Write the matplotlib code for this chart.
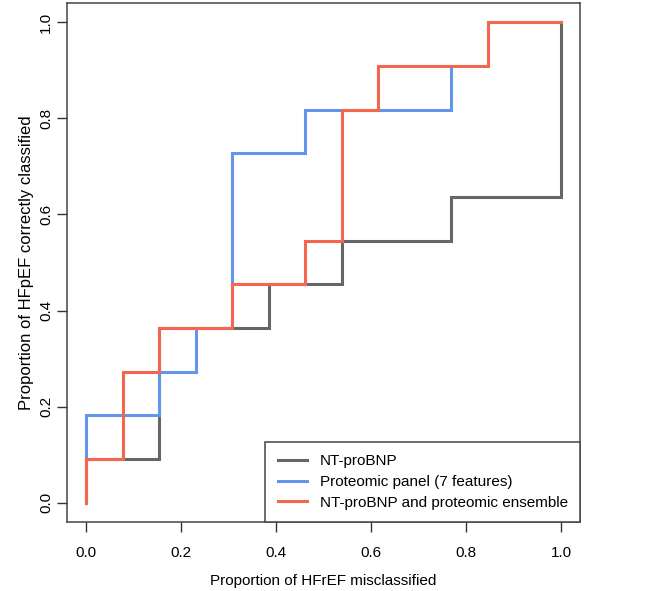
import matplotlib
matplotlib.use("Agg")
import matplotlib.pyplot as plt

plt.rcParams['font.family'] = ['Liberation Sans', 'DejaVu Sans']

# Data: ROC step coordinates (false positive fraction, true positive fraction)
nt_fpr = [0, 0, 2/13, 2/13, 5/13, 5/13, 7/13, 7/13, 10/13, 10/13, 1, 1]
nt_tpr = [0, 1/11, 1/11, 4/11, 4/11, 5/11, 5/11, 6/11, 6/11, 7/11, 7/11, 1]

prot_fpr = [0, 0, 2/13, 2/13, 3/13, 3/13, 4/13, 4/13, 6/13, 6/13, 10/13, 10/13, 11/13, 11/13, 1]
prot_tpr = [0, 2/11, 2/11, 3/11, 3/11, 4/11, 4/11, 8/11, 8/11, 9/11, 9/11, 10/11, 10/11, 1, 1]

ens_fpr = [0, 0, 1/13, 1/13, 2/13, 2/13, 4/13, 4/13, 6/13, 6/13, 7/13, 7/13, 8/13, 8/13, 11/13, 11/13, 1]
ens_tpr = [0, 1/11, 1/11, 3/11, 3/11, 4/11, 4/11, 5/11, 5/11, 6/11, 6/11, 9/11, 9/11, 10/11, 10/11, 1, 1]

labels = ["NT-proBNP", "Proteomic panel (7 features)", "NT-proBNP and proteomic ensemble"]
colors = ["#666666", "#6495ED", "#F4664F"]
ticks = [0.0, 0.2, 0.4, 0.6, 0.8, 1.0]
tick_labels = ["0.0", "0.2", "0.4", "0.6", "0.8", "1.0"]

fig = plt.figure(figsize=(6.55, 5.91), dpi=100)
ax = fig.add_axes([67/655, 69/591, 513/655, 519/591])

series = [(nt_fpr, nt_tpr), (prot_fpr, prot_tpr), (ens_fpr, ens_tpr)]
for (x, y), lab, c in zip(series, labels, colors):
    ax.plot(x, y, color=c, lw=2.2, label=lab, solid_joinstyle='miter')

ax.set_xlim(-0.04, 1.04)
ax.set_ylim(-0.04, 1.04)
ax.set_xticks(ticks)
ax.set_xticklabels(tick_labels)
ax.set_yticks(ticks)
ax.set_yticklabels(tick_labels, rotation=90, va='center')
ax.tick_params(axis='both', direction='out', length=7, width=1, color='#333333',
               labelsize=11)
ax.tick_params(axis='x', pad=10)
ax.tick_params(axis='y', pad=3)
for s in ax.spines.values():
    s.set_color('#444444')
    s.set_linewidth(1.1)

ax.set_xlabel("Proportion of HFrEF misclassified", fontsize=11, labelpad=10)
ax.set_ylabel("Proportion of HFpEF correctly classified", fontsize=12, labelpad=4)

leg = ax.legend(loc='lower right', borderaxespad=0, fancybox=False, framealpha=1,
                edgecolor='#444444', fontsize=11, handlelength=1.9, handletextpad=0.85,
                labelspacing=0.45, borderpad=0.8)
leg.get_frame().set_linewidth(1.1)

fig.savefig("out.png", dpi=100)
